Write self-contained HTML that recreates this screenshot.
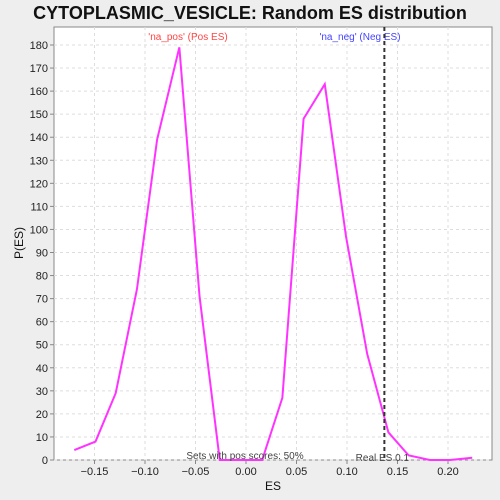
<!DOCTYPE html>
<html><head><meta charset="utf-8"><style>
html,body{margin:0;background:#eeeeee;font-family:"Liberation Sans","DejaVu Sans",sans-serif;overflow:hidden}
svg{display:block}
</style></head><body>
<svg width="500" height="500" xmlns="http://www.w3.org/2000/svg">
<text x="250" y="19" text-anchor="middle" font-size="18" font-weight="bold" fill="#111">CYTOPLASMIC_VESICLE: Random ES distribution</text>
<rect x="54" y="27" width="438" height="433" fill="#fff" stroke="#888"/>
<g id="grid"></g><g id="axes"></g>
<text x="188" y="40" text-anchor="middle" font-size="10" fill="#ff4444">'na_pos' (Pos ES)</text>
<text x="360" y="40" text-anchor="middle" font-size="10" fill="#4444ff">'na_neg' (Neg ES)</text>
<polyline id="line" fill="none" stroke="#ff33ff" stroke-width="2"/>
<line id="real" y1="27" y2="460" stroke="#333" stroke-width="2" stroke-dasharray="4,3"/>
<text x="245" y="459" text-anchor="middle" font-size="10" fill="#444">Sets with pos scores: 50%</text>
<text id="realtxt" y="461" font-size="10" fill="#444" text-anchor="middle">Real ES 0.1</text>
<text x="273" y="490" text-anchor="middle" font-size="12" fill="#111">ES</text>
<text x="23" y="243" text-anchor="middle" font-size="12" fill="#111" transform="rotate(-90 23 243)">P(ES)</text>
</svg>
<script>
const esValues=[-0.170,-0.149,-0.129,-0.108,-0.088,-0.066,-0.046,-0.026,-0.005,0.016,0.036,0.057,0.078,0.099,0.120,0.141,0.161,0.182,0.202,0.224];
const counts=[4.3,8,29,74,139,179,71,0,0,0,27,148,163,97,46,12,2,0,0,1];
const xTicks=[-0.15,-0.10,-0.05,0.00,0.05,0.10,0.15,0.20];
const yTicks=[0,10,20,30,40,50,60,70,80,90,100,110,120,130,140,150,160,170,180];
const realES=0.137;
const X=v=>246+v*1010, Y=v=>460-v*2.3056;
const ns="http://www.w3.org/2000/svg";
const g=document.getElementById('grid'), a=document.getElementById('axes');
function mk(p,t,at){const e=document.createElementNS(ns,t);for(const k in at)e.setAttribute(k,at[k]);p.appendChild(e);return e;}
xTicks.forEach(t=>{
 const l=mk(g,'line',{x1:X(t),x2:X(t),y1:27,y2:460,stroke:'#ddd','stroke-dasharray':'3,3'});
 
 
 mk(a,'line',{x1:X(t),x2:X(t),y1:460,y2:464,stroke:'#888'});
 const tx=mk(a,'text',{x:X(t),y:475,'text-anchor':'middle','font-size':11,fill:'#222'});
 tx.textContent=(t<0?'\u2212':'')+Math.abs(t).toFixed(2);
 
 
});
yTicks.forEach(t=>{
 const l=mk(g,'line',{x1:54,x2:492,y1:Y(t),y2:Y(t),stroke:'#ddd','stroke-dasharray':'3,3'});
 
 
 mk(a,'line',{x1:50,x2:54,y1:Y(t),y2:Y(t),stroke:'#888'});
 const tx=mk(a,'text',{x:48,y:Y(t)+4,'text-anchor':'end','font-size':11,fill:'#222'});
 tx.textContent=t;
 
 
});
document.getElementById('line').setAttribute('points',esValues.map((v,i)=>X(v)+','+Y(counts[i])).join(' '));
const r=document.getElementById('real');r.setAttribute('x1',X(realES));r.setAttribute('x2',X(realES));
document.getElementById('realtxt').setAttribute('x',X(realES)-2);
</script>
</body></html>
